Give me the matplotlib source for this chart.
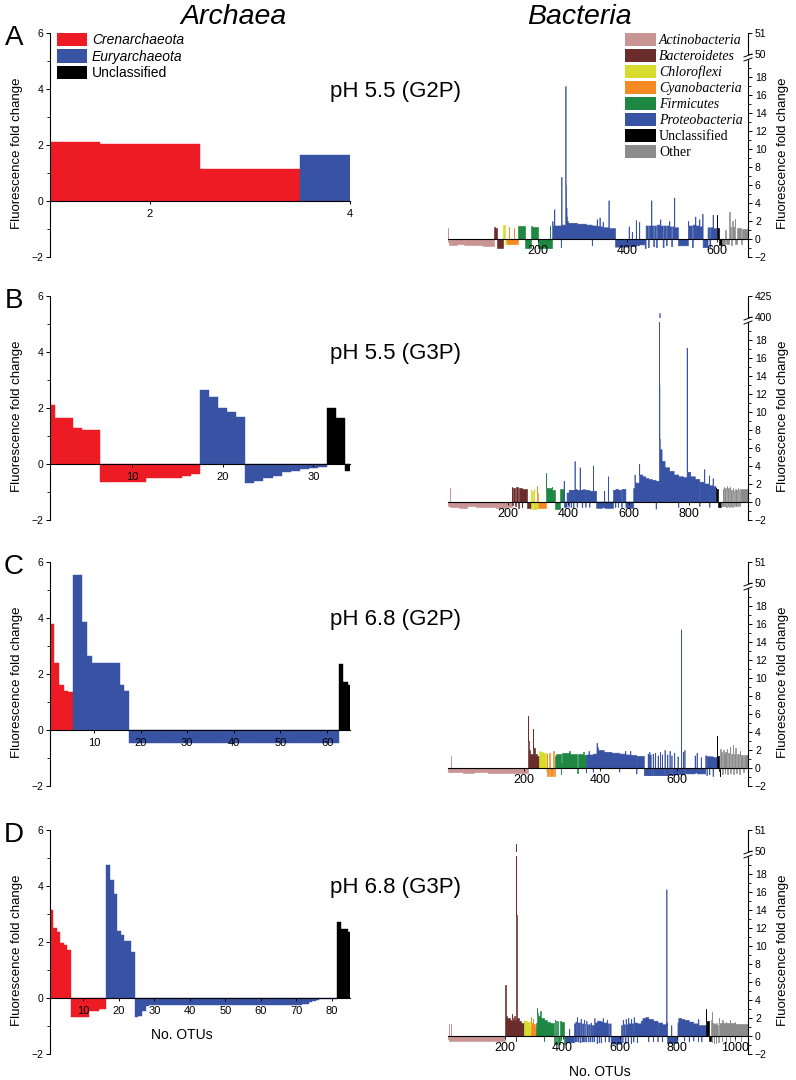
import numpy as np
import matplotlib
matplotlib.use("Agg")
import matplotlib.pyplot as plt
from matplotlib.patches import Patch
from matplotlib.lines import Line2D
from matplotlib.ticker import FixedLocator

plt.rcParams['font.family'] = ['Liberation Sans', 'DejaVu Sans']

# ---------------- data ----------------
# archaea: (group, number of OTUs, fold change)
arch_colors = {"C": "#ED1C24", "E": "#3953A4", "U": "#000000"}
arch_names = ["Crenarchaeota", "Euryarchaeota", "Unclassified"]

arch_A = [("C", 1, 2.1), ("C", 1, 2.05), ("C", 1, 1.15), ("E", 1, 1.65)]
arch_B = [("C", 1, 2.1), ("C", 2, 1.65), ("C", 1, 1.3), ("C", 1, 1.22), ("C", 1, 1.2),
          ("C", 5, -0.66), ("C", 4, -0.5), ("C", 1, -0.42), ("C", 1, -0.36),
          ("E", 1, 2.63), ("E", 1, 2.4), ("E", 1, 2.0), ("E", 1, 1.86), ("E", 1, 1.68),
          ("E", 1, -0.69), ("E", 1, -0.62), ("E", 1, -0.5), ("E", 1, -0.42), ("E", 1, -0.28),
          ("E", 1, -0.24), ("E", 1, -0.18), ("E", 1, -0.14), ("E", 1, -0.1),
          ("U", 1, 2.0), ("U", 1, 1.65), ("U", 1, -0.25)]
arch_C = [("C", 1, 3.78), ("C", 1, 2.38), ("C", 1, 1.6), ("C", 1, 1.4), ("C", 1, 1.35),
          ("E", 2, 5.55), ("E", 1, 3.85), ("E", 1, 2.65), ("E", 6, 2.4), ("E", 1, 1.6), ("E", 1, 1.4),
          ("E", 45, -0.45),
          ("U", 1, 2.35), ("U", 1, 1.72), ("U", 1, 1.6)]
arch_D = [("C", 1, 3.15), ("C", 1, 2.49), ("C", 1, 2.35), ("C", 1, 1.98), ("C", 1, 1.9), ("C", 1, 1.72),
          ("C", 5, -0.69), ("C", 3, -0.45), ("C", 2, -0.39),
          ("E", 1, 4.75), ("E", 1, 4.22), ("E", 1, 3.72), ("E", 1, 2.38), ("E", 1, 2.26), ("E", 2, 2.04),
          ("E", 1, 1.66),
          ("E", 1, -0.69), ("E", 1, -0.66), ("E", 1, -0.45), ("E", 1, -0.3), ("E", 42, -0.25),
          ("E", 1, -0.24), ("E", 1, -0.22), ("E", 1, -0.2), ("E", 1, -0.16), ("E", 1, -0.12),
          ("E", 1, -0.08), ("E", 1, -0.05), ("E", 4, -0.02),
          ("U", 1, 2.72), ("U", 2, 2.48), ("U", 1, 2.35)]

# bacteria: (phylum, number of OTUs, fold change)
bact_codes = ["Act", "Bac", "Chl", "Cya", "Fir", "Pro", "Unc", "Oth"]
bact_names = ["Actinobacteria", "Bacteroidetes", "Chloroflexi", "Cyanobacteria",
              "Firmicutes", "Proteobacteria", "Unclassified", "Other"]
bact_colors = ["#C99494", "#6B2C2C", "#D8DC2C", "#F58A24", "#1E8742", "#3953A4", "#000000", "#8C8C8C"]

bact_A = [
    ("Act", 1, 1.2), ("Act", 2, -0.35), ("Act", 18, -0.7), ("Act", 14, -0.6), ("Act", 22, -0.72),
    ("Act", 20, -0.64), ("Act", 26, -0.76),
    ("Bac", 1, 1.35), ("Bac", 6, 1.2), ("Bac", 13, -0.95),
    ("Chl", 5, 1.6), ("Chl", 4, -0.6),
    ("Cya", 3, -0.6), ("Cya", 1, 1.3), ("Cya", 11, -0.6), ("Cya", 1, 1.2), ("Cya", 8, -0.6),
    ("Fir", 1, 1.5), ("Fir", 15, 1.4), ("Fir", 13, -1.0), ("Fir", 2, 1.5), ("Fir", 14, 1.3),
    ("Fir", 26, -1.0), ("Fir", 1, 1.5), ("Fir", 4, -1.0),
    ("Pro", 1, 2.0), ("Pro", 3, 1.5), ("Pro", 1, 3.3), ("Pro", 14, 1.5), ("Pro", 1, -0.9), ("Pro", 1, 6.9),
    ("Pro", 8, 1.6), ("Pro", 1, 17.0), ("Pro", 1, 6.0), ("Pro", 1, 3.5), ("Pro", 1, 2.5), ("Pro", 2, 2.0),
    ("Pro", 20, 1.8), ("Pro", 20, 1.7), ("Pro", 13, 1.6), ("Pro", 1, -0.7), ("Pro", 10, 1.5), ("Pro", 1, 2.2),
    ("Pro", 5, 1.45), ("Pro", 1, 2.4), ("Pro", 6, 1.4), ("Pro", 1, 1.9), ("Pro", 12, 1.3), ("Pro", 1, 4.3),
    ("Pro", 14, 1.2),
    ("Pro", 30, -0.85), ("Pro", 1, 1.4), ("Pro", 6, -0.8), ("Pro", 1, 0.8), ("Pro", 8, -0.8), ("Pro", 1, 2.1),
    ("Pro", 6, -0.7), ("Pro", 1, 1.9), ("Pro", 12, -0.6), ("Pro", 2, -1.0), ("Pro", 5, 1.5), ("Pro", 2, -0.9),
    ("Pro", 5, 1.5), ("Pro", 1, 4.3), ("Pro", 4, 1.5), ("Pro", 2, -0.8), ("Pro", 4, 1.5), ("Pro", 2, -0.9),
    ("Pro", 7, 1.6), ("Pro", 1, 2.2), ("Pro", 5, 1.5), ("Pro", 2, -0.9), ("Pro", 5, 1.5), ("Pro", 2, -0.7),
    ("Pro", 5, 1.5), ("Pro", 1, 2.0), ("Pro", 4, 1.4), ("Pro", 2, -0.8), ("Pro", 4, 1.4), ("Pro", 1, 4.6),
    ("Pro", 8, 1.3),
    ("Pro", 22, -0.7), ("Pro", 1, 2.0), ("Pro", 8, 1.5), ("Pro", 2, -0.9), ("Pro", 5, 1.6), ("Pro", 1, 2.5),
    ("Pro", 8, 1.5), ("Pro", 1, 2.2), ("Pro", 6, 1.4), ("Pro", 1, 2.8), ("Pro", 11, -0.9), ("Pro", 4, 1.3),
    ("Pro", 2, -0.9), ("Pro", 5, 1.3), ("Pro", 1, 2.7), ("Pro", 8, 1.2),
    ("Unc", 1, 2.7), ("Unc", 5, 1.2), ("Unc", 5, -0.7),
    ("Oth", 8, -0.7), ("Oth", 3, 1.0), ("Oth", 6, -0.6), ("Oth", 1, 3.0), ("Oth", 4, 1.3), ("Oth", 2, -0.7),
    ("Oth", 1, 2.0), ("Oth", 5, 1.3), ("Oth", 1, 2.2), ("Oth", 3, -0.5), ("Oth", 10, 1.2), ("Oth", 2, -0.6),
    ("Oth", 13, 1.1),
]

bact_B = [
    ("Act", 7, -0.5), ("Act", 1, 1.5), ("Act", 30, -0.55), ("Act", 25, -0.65), ("Act", 30, -0.5),
    ("Act", 30, -0.6), ("Act", 35, -0.55), ("Act", 30, -0.7), ("Act", 23, -0.6), ("Act", 1, 1.3),
    ("Bac", 1, 1.7), ("Bac", 3, -0.3), ("Bac", 7, 1.5), ("Bac", 1, -0.5), ("Bac", 9, 1.65), ("Bac", 1, -0.7),
    ("Bac", 12, 1.55), ("Bac", 1, -0.6), ("Bac", 16, 1.45), ("Bac", 11, -0.7),
    ("Chl", 1, 1.3), ("Chl", 5, -0.75), ("Chl", 1, 1.2), ("Chl", 4, -0.75), ("Chl", 1, 1.4), ("Chl", 8, -0.75),
    ("Cya", 1, 1.8), ("Cya", 4, 1.0), ("Cya", 26, -0.7),
    ("Fir", 1, 3.2), ("Fir", 18, 1.5), ("Fir", 1, 1.7), ("Fir", 10, 1.3), ("Fir", 15, -0.8), ("Fir", 15, 1.4),
    ("Pro", 1, 2.3), ("Pro", 9, -0.6), ("Pro", 6, 1.0), ("Pro", 1, -0.6), ("Pro", 6, 1.3), ("Pro", 1, -0.6),
    ("Pro", 8, 1.3), ("Pro", 1, -0.7), ("Pro", 3, 1.3), ("Pro", 1, 4.5), ("Pro", 6, 1.4), ("Pro", 2, -0.6),
    ("Pro", 8, 1.3), ("Pro", 1, 3.8), ("Pro", 6, 1.3), ("Pro", 2, -0.6), ("Pro", 10, 1.35), ("Pro", 1, -0.6),
    ("Pro", 12, 1.3), ("Pro", 1, -0.6), ("Pro", 11, 1.2), ("Pro", 1, 4.0), ("Pro", 10, 1.2),
    ("Pro", 20, -0.7), ("Pro", 6, -0.6), ("Pro", 1, 1.2), ("Pro", 12, -0.7), ("Pro", 1, 2.8), ("Pro", 16, -0.7),
    ("Pro", 6, 1.3), ("Pro", 2, -0.6), ("Pro", 8, 1.4), ("Pro", 1, -0.6), ("Pro", 10, 1.3), ("Pro", 2, -0.6),
    ("Pro", 12, 1.4), ("Pro", 4, -0.6), ("Pro", 22, -0.7),
    ("Pro", 4, 1.5), ("Pro", 1, 3.0), ("Pro", 14, 2.1), ("Pro", 1, 4.2), ("Pro", 10, 3.0), ("Pro", 10, 2.8),
    ("Pro", 10, 2.6), ("Pro", 12, 2.5), ("Pro", 12, 2.4), ("Pro", 1, -0.8), ("Pro", 10, 2.3),
    ("Pro", 1, 404.8), ("Pro", 1, 13.0), ("Pro", 1, 7.0), ("Pro", 6, 5.8), ("Pro", 10, 4.5), ("Pro", 15, 3.8),
    ("Pro", 15, 3.4), ("Pro", 15, 3.0), ("Pro", 1, -0.6), ("Pro", 15, 2.8), ("Pro", 12, 2.7),
    ("Pro", 1, 17.1), ("Pro", 1, 4.5), ("Pro", 10, 3.3), ("Pro", 15, 2.8), ("Pro", 15, 2.5), ("Pro", 1, -0.5),
    ("Pro", 15, 2.2), ("Pro", 1, 3.6), ("Pro", 15, 2.0), ("Pro", 1, 2.9), ("Pro", 1, -0.6), ("Pro", 10, 1.8),
    ("Pro", 1, 2.6), ("Pro", 9, 1.7),
    ("Unc", 1, 1.6), ("Unc", 7, 1.4), ("Unc", 9, -0.6),
    ("Oth", 6, -0.5), ("Oth", 1, 1.4), ("Oth", 2, -0.5), ("Oth", 1, 1.7), ("Oth", 2, 1.2), ("Oth", 2, -0.5),
    ("Oth", 1, 1.5), ("Oth", 2, 1.2), ("Oth", 2, -0.6), ("Oth", 1, 1.8), ("Oth", 2, 1.3), ("Oth", 2, -0.5),
    ("Oth", 1, 1.6), ("Oth", 2, 1.2), ("Oth", 2, -0.6), ("Oth", 1, 1.7), ("Oth", 2, 1.2), ("Oth", 2, -0.5),
    ("Oth", 3, 1.3), ("Oth", 2, -0.6), ("Oth", 1, 1.6), ("Oth", 3, 1.2), ("Oth", 2, -0.5), ("Oth", 3, 1.4),
    ("Oth", 2, -0.5), ("Oth", 3, 1.3), ("Oth", 2, -0.5), ("Oth", 1, 1.6), ("Oth", 3, 1.3), ("Oth", 2, -0.5),
    ("Oth", 28, 1.4),
]

bact_C = [
    ("Act", 8, -0.4), ("Act", 1, 1.3), ("Act", 30, -0.5), ("Act", 30, -0.6), ("Act", 35, -0.5),
    ("Act", 30, -0.6), ("Act", 35, -0.55), ("Act", 40, -0.6),
    ("Bac", 1, 5.8), ("Bac", 1, 3.0), ("Bac", 4, 2.0), ("Bac", 7, 1.5), ("Bac", 1, 4.3), ("Bac", 1, 3.0),
    ("Bac", 3, 2.2), ("Bac", 6, 1.6), ("Bac", 6, 1.3),
    ("Chl", 1, 1.9), ("Chl", 8, 1.8), ("Chl", 1, 1.2), ("Chl", 8, 1.7), ("Chl", 2, -0.3),
    ("Cya", 1, 1.6), ("Cya", 5, -0.9), ("Cya", 1, 1.7), ("Cya", 10, -0.9), ("Cya", 1, 1.9), ("Cya", 4, -0.9),
    ("Fir", 1, 1.3), ("Fir", 14, 1.5), ("Fir", 1, -0.7), ("Fir", 1, 0.5), ("Fir", 20, 1.7), ("Fir", 1, 1.9),
    ("Fir", 20, 1.6), ("Fir", 1, -0.6), ("Fir", 15, 1.5), ("Fir", 1, 1.8), ("Fir", 5, 1.4),
    ("Pro", 1, -0.5), ("Pro", 6, 1.5), ("Pro", 1, 1.9), ("Pro", 10, 1.5), ("Pro", 1, -0.4), ("Pro", 9, 1.6),
    ("Pro", 1, 2.8), ("Pro", 3, 2.3), ("Pro", 15, 2.0), ("Pro", 20, 1.8), ("Pro", 20, 1.7), ("Pro", 1, -0.4),
    ("Pro", 15, 1.6), ("Pro", 1, 1.9), ("Pro", 12, 1.5), ("Pro", 1, 1.9), ("Pro", 15, 1.45), ("Pro", 1, -0.6),
    ("Pro", 19, 1.35),
    ("Pro", 10, -0.8), ("Pro", 1, 1.6), ("Pro", 3, -0.8), ("Pro", 1, 1.8), ("Pro", 2, -0.8), ("Pro", 1, 1.5),
    ("Pro", 5, -0.8), ("Pro", 1, 1.6), ("Pro", 1, 1.3), ("Pro", 4, -0.8), ("Pro", 1, 1.7), ("Pro", 6, -0.8),
    ("Pro", 1, 1.4), ("Pro", 5, -0.8), ("Pro", 1, 1.8), ("Pro", 4, -0.8), ("Pro", 1, 1.5), ("Pro", 6, -0.8),
    ("Pro", 1, 2.0), ("Pro", 6, -0.8), ("Pro", 1, 1.5), ("Pro", 5, -0.75), ("Pro", 1, 1.9), ("Pro", 4, -0.75),
    ("Pro", 1, 1.4), ("Pro", 6, -0.75), ("Pro", 1, 1.7), ("Pro", 8, -0.7), ("Pro", 1, 1.3), ("Pro", 8, -0.7),
    ("Pro", 1, 15.4), ("Pro", 4, -0.7), ("Pro", 1, 1.8), ("Pro", 3, -0.7), ("Pro", 1, 2.0), ("Pro", 6, -0.6),
    ("Pro", 20, -0.6), ("Pro", 1, 1.4), ("Pro", 4, -0.5), ("Pro", 1, 1.7), ("Pro", 10, -0.6), ("Pro", 1, 1.2),
    ("Pro", 11, -0.6),
    ("Pro", 3, 1.4), ("Pro", 1, -0.8), ("Pro", 6, 1.3), ("Pro", 1, -0.7), ("Pro", 8, 1.3), ("Pro", 1, -0.9),
    ("Pro", 11, 1.2),
    ("Unc", 1, 3.5), ("Unc", 4, 1.3), ("Unc", 2, -0.3), ("Unc", 1, -0.9),
    ("Oth", 1, 2.1), ("Oth", 4, 1.8), ("Oth", 2, -0.7), ("Oth", 4, 2.0), ("Oth", 1, 1.5), ("Oth", 2, -0.6),
    ("Oth", 4, 1.8), ("Oth", 1, 2.1), ("Oth", 2, -0.7), ("Oth", 4, 1.7), ("Oth", 1, 2.3), ("Oth", 2, -0.6),
    ("Oth", 5, 1.6), ("Oth", 1, 2.5), ("Oth", 2, -0.7), ("Oth", 4, 1.5), ("Oth", 1, 2.2), ("Oth", 2, -0.6),
    ("Oth", 7, 1.6), ("Oth", 2, -0.7), ("Oth", 1, 1.9), ("Oth", 7, 1.4), ("Oth", 2, -0.5), ("Oth", 11, 1.4),
]

bact_D = [
    ("Act", 3, -0.3), ("Act", 1, 1.3), ("Act", 6, -0.5), ("Act", 1, 1.3), ("Act", 40, -0.55),
    ("Act", 40, -0.6), ("Act", 40, -0.5), ("Act", 40, -0.6), ("Act", 29, -0.55),
    ("Bac", 1, 5.7), ("Bac", 1, 3.0), ("Bac", 5, 2.2), ("Bac", 8, 2.0), ("Bac", 7, 1.8), ("Bac", 1, 2.5),
    ("Bac", 3, 2.0), ("Bac", 5, 1.8), ("Bac", 1, 2.2), ("Bac", 4, 1.8), ("Bac", 1, -0.6), ("Bac", 1, 50.35),
    ("Bac", 1, 13.5), ("Bac", 1, 10.5), ("Bac", 2, 3.0), ("Bac", 4, 2.0), ("Bac", 8, 1.7), ("Bac", 10, 1.5),
    ("Chl", 1, 1.8), ("Chl", 10, 1.7), ("Chl", 1, 1.4), ("Chl", 10, 1.6), ("Chl", 2, 1.0),
    ("Cya", 1, 2.1), ("Cya", 6, 1.4), ("Cya", 1, 1.9), ("Cya", 8, 1.3), ("Cya", 4, 0.9),
    ("Fir", 2, 1.5), ("Fir", 1, 3.1), ("Fir", 3, 2.6), ("Fir", 8, 2.2), ("Fir", 1, 2.8), ("Fir", 10, 2.0),
    ("Fir", 1, -0.5), ("Fir", 12, 1.8), ("Fir", 10, 1.6), ("Fir", 13, 1.4), ("Fir", 4, -0.9), ("Fir", 1, 1.8),
    ("Fir", 3, 1.7), ("Fir", 4, -0.9), ("Fir", 4, 1.7), ("Fir", 4, -0.9), ("Fir", 5, 1.7),
    ("Fir", 1, -0.4), ("Fir", 8, 1.6), ("Fir", 7, -0.9),
    ("Pro", 12, -0.7), ("Pro", 1, 0.8), ("Pro", 16, -0.7),
    ("Pro", 3, 1.4), ("Pro", 2, -0.6), ("Pro", 3, 1.6), ("Pro", 2, -0.6), ("Pro", 1, 2.1), ("Pro", 3, 1.5),
    ("Pro", 2, -0.6), ("Pro", 4, 1.5), ("Pro", 3, -0.7),
    ("Pro", 1, 1.9), ("Pro", 3, 1.4), ("Pro", 3, -0.6), ("Pro", 2, 1.4), ("Pro", 3, -0.6), ("Pro", 1, 1.8),
    ("Pro", 3, 1.3), ("Pro", 4, -0.6),
    ("Pro", 1, 1.7), ("Pro", 4, 1.3), ("Pro", 3, -0.6), ("Pro", 4, 1.3), ("Pro", 3, -0.6), ("Pro", 1, 1.5),
    ("Pro", 4, 1.2), ("Pro", 2, -0.6), ("Pro", 4, 1.2), ("Pro", 2, -0.6),
    ("Pro", 1, 2.0), ("Pro", 7, 1.5), ("Pro", 2, -0.8), ("Pro", 5, 1.7), ("Pro", 2, -0.7), ("Pro", 5, 1.7),
    ("Pro", 2, -0.7), ("Pro", 5, 1.6),
    ("Pro", 1, 2.0), ("Pro", 6, 1.5), ("Pro", 2, -0.6), ("Pro", 6, 1.5), ("Pro", 1, 1.8), ("Pro", 4, 1.4),
    ("Pro", 3, -0.6), ("Pro", 5, 1.4),
    ("Pro", 36, -0.85),
    ("Pro", 4, 1.2), ("Pro", 2, -0.7), ("Pro", 1, 1.8), ("Pro", 6, 1.3), ("Pro", 3, -0.8), ("Pro", 1, 1.9),
    ("Pro", 6, 1.3), ("Pro", 2, -0.7), ("Pro", 1, 2.0), ("Pro", 8, 1.4), ("Pro", 1, -0.8), ("Pro", 1, 1.9),
    ("Pro", 6, 1.4), ("Pro", 2, -0.6), ("Pro", 1, 2.1), ("Pro", 10, 1.5), ("Pro", 1, -0.7), ("Pro", 13, 1.4),
    ("Pro", 6, 1.7), ("Pro", 10, 2.0), ("Pro", 10, 2.1), ("Pro", 1, -0.6), ("Pro", 15, 1.9), ("Pro", 1, -0.6),
    ("Pro", 15, 1.7), ("Pro", 1, -0.6), ("Pro", 15, 1.5), ("Pro", 1, -0.6), ("Pro", 14, 1.3), ("Pro", 1, 16.3),
    ("Pro", 1, 1.2), ("Pro", 1, 1.5), ("Pro", 14, -0.8), ("Pro", 1, 1.2), ("Pro", 21, -0.75),
    ("Pro", 3, 1.5), ("Pro", 10, 2.0), ("Pro", 10, 1.9), ("Pro", 1, -0.5), ("Pro", 15, 1.8), ("Pro", 1, -0.6),
    ("Pro", 15, 1.6), ("Pro", 1, -0.5), ("Pro", 15, 1.4), ("Pro", 1, -0.6), ("Pro", 1, 1.9), ("Pro", 10, 1.2),
    ("Pro", 1, -0.6), ("Pro", 16, 1.2),
    ("Unc", 1, 3.0), ("Unc", 8, 1.7), ("Unc", 9, -0.6),
    ("Oth", 1, 1.8), ("Oth", 2, -0.7), ("Oth", 1, 2.7), ("Oth", 5, 1.4), ("Oth", 2, -0.8), ("Oth", 6, 1.3),
    ("Oth", 1, -0.8), ("Oth", 1, 1.5), ("Oth", 6, 1.2), ("Oth", 2, -0.7), ("Oth", 1, 2.0), ("Oth", 10, 1.4),
    ("Oth", 1, -0.6), ("Oth", 1, 1.8), ("Oth", 10, 1.5), ("Oth", 1, -0.7), ("Oth", 1, 1.6), ("Oth", 12, 1.4),
    ("Oth", 1, -0.6), ("Oth", 1, 1.8), ("Oth", 15, 1.4), ("Oth", 1, -0.5), ("Oth", 1, 1.6), ("Oth", 20, 1.3),
    ("Oth", 1, -0.6), ("Oth", 24, 1.3),
]

letters = ["A", "B", "C", "D"]
conditions = ["pH 5.5 (G2P)", "pH 5.5 (G3P)", "pH 6.8 (G2P)", "pH 6.8 (G3P)"]
arch_sets = [arch_A, arch_B, arch_C, arch_D]
arch_xticks = [[2, 4], [10, 20, 30], [10, 20, 30, 40, 50, 60], [10, 20, 30, 40, 50, 60, 70, 80]]
bact_sets = [bact_A, bact_B, bact_C, bact_D]
bact_xticks = [[200, 400, 600], [200, 400, 600, 800], [200, 400, 600], [200, 400, 600, 800, 1000]]
bact_upper = [(50, 51), (400, 425), (50, 51), (50, 51)]

# ---------------- layout ----------------
W, H = 796, 1080
fig = plt.figure(figsize=(W / 100, H / 100), dpi=100)


def rect(x0, y0, x1, y1):
    return [x0 / W, 1 - y1 / H, (x1 - x0) / W, (y1 - y0) / H]


def fx(x):
    return x / W


def fy(y):
    return 1 - y / H


def expand(segs):
    groups, values = [], []
    for g, n, v in segs:
        groups += [g] * n
        values += [v] * n
    return groups, np.array(values, dtype=float)


panel_tops = [33, 296, 562, 830]
arch_xlims = [(1, 4), (0.95, 34.05), (0.6, 64.9), (0.6, 85.1)]

for k in range(4):
    T = panel_tops[k]

    # ---- archaea ----
    ax = fig.add_axes(rect(50, T, 350, T + 224))
    grp, vals = expand(arch_sets[k])
    x = np.arange(1, len(vals) + 1)
    cols = [arch_colors[g] for g in grp]
    ax.bar(x, vals, width=1.0, color=cols, edgecolor=cols, linewidth=0.3)
    ax.set_xlim(*arch_xlims[k])
    ax.set_ylim(-2, 6)
    for s in ("top", "right"):
        ax.spines[s].set_visible(False)
    ax.spines["bottom"].set_position(("data", 0))
    ax.spines["left"].set_linewidth(0.8)
    ax.spines["bottom"].set_linewidth(0.8)
    ax.yaxis.set_major_locator(FixedLocator([-2, 0, 2, 4, 6]))
    ax.yaxis.set_minor_locator(FixedLocator([-1, 1, 3, 5]))
    ax.set_xticks(arch_xticks[k])
    ax.tick_params(axis="y", which="major", length=3, width=0.7, labelsize=7.5, pad=2)
    ax.tick_params(axis="y", which="minor", length=2, width=0.6)
    ax.tick_params(axis="x", length=2.5, width=0.7, labelsize=8, pad=3)
    ax.patch.set_alpha(0)

    fig.text(fx(17), fy(T + 120), "Fluorescence fold change", rotation=90,
             ha="center", va="center", fontsize=9.5)
    fig.text(fx(14), fy(T + 5), letters[k], ha="center", va="center", fontsize=20)
    fig.text(fx(330), fy(T + 58), conditions[k], ha="left", va="center", fontsize=16)

    # ---- bacteria (broken y axis: lower part + small upper part) ----
    grp, vals = expand(bact_sets[k])
    n = len(vals)
    ax_lo = fig.add_axes(rect(448, T + 26, 748, T + 224))
    ax_hi = fig.add_axes(rect(448, T, 748, T + 21))
    for a in (ax_lo, ax_hi):
        start = 0
        for i in range(1, n + 1):
            if i == n or grp[i] != grp[start]:
                c = bact_colors[bact_codes.index(grp[start])]
                edges = np.arange(start + 0.5, i + 1.0)
                yv = np.append(vals[start:i], vals[i - 1])
                a.fill_between(edges, 0, yv, step="post", color=c, linewidth=0.45)
                start = i
        a.set_xlim(0.5, n + 0.5)
        a.patch.set_alpha(0)
        a.spines["left"].set_visible(False)
        a.spines["top"].set_visible(False)
        a.spines["right"].set_linewidth(0.8)
        a.yaxis.tick_right()

    ax_lo.set_ylim(-2, 20)
    ax_lo.spines["bottom"].set_position(("data", 0))
    ax_lo.spines["bottom"].set_linewidth(0.8)
    ax_lo.spines["bottom"].set_zorder(3)
    ax_lo.yaxis.set_major_locator(FixedLocator(list(range(-2, 19, 2))))
    ax_lo.yaxis.set_minor_locator(FixedLocator(list(range(-1, 20, 2))))
    ax_lo.set_xticks(bact_xticks[k])
    ax_lo.tick_params(axis="y", which="major", length=3, width=0.7, labelsize=7.5, pad=2)
    ax_lo.tick_params(axis="y", which="minor", length=2, width=0.6)
    ax_lo.tick_params(axis="x", length=2, width=0.6, labelsize=9, pad=2.5)

    lo, hi = bact_upper[k]
    ax_hi.set_ylim(lo, hi)
    ax_hi.spines["bottom"].set_visible(False)
    ax_hi.set_xticks([])
    ax_hi.set_yticks([lo, hi])
    ax_hi.tick_params(axis="y", length=3, width=0.7, labelsize=7.5, pad=2)

    # axis break marks
    for dy in (0, 4):
        fig.add_artist(Line2D([fx(744), fx(752)], [fy(T + 24 + dy), fy(T + 21 + dy)],
                              color="black", lw=0.7))

    fig.text(fx(783), fy(T + 120), "Fluorescence fold change", rotation=90,
             ha="center", va="center", fontsize=9.5)

# titles
fig.text(fx(234), fy(17), "Archaea", style="italic", ha="center", va="center", fontsize=20.5)
fig.text(fx(579), fy(17), "Bacteria", style="italic", ha="center", va="center", fontsize=20.5)
fig.text(fx(182), fy(1035), "No. OTUs", ha="center", va="center", fontsize=10)
fig.text(fx(600), fy(1072), "No. OTUs", ha="center", va="center", fontsize=10)

# legends
arch_handles = [Patch(facecolor=arch_colors[g], edgecolor="none") for g in ("C", "E", "U")]
leg = fig.legend(arch_handles, arch_names, loc="upper left", bbox_to_anchor=(fx(57), fy(33)),
                 frameon=False, fontsize=10, handlelength=2.16, handleheight=1.08,
                 handletextpad=0.36, labelspacing=0.15, borderpad=0, borderaxespad=0)
for t in leg.get_texts()[:2]:
    t.set_fontstyle("italic")

bact_handles = [Patch(facecolor=c, edgecolor="none") for c in bact_colors]
leg2 = fig.legend(bact_handles, bact_names, loc="upper left", bbox_to_anchor=(fx(625), fy(33)),
                  frameon=False, prop={"family": "Liberation Serif", "size": 10},
                  handlelength=2.23, handleheight=1.08, handletextpad=0.22,
                  labelspacing=0.12, borderpad=0, borderaxespad=0)
for t in leg2.get_texts()[:6]:
    t.set_fontstyle("italic")

fig.savefig("out.png", dpi=100)
